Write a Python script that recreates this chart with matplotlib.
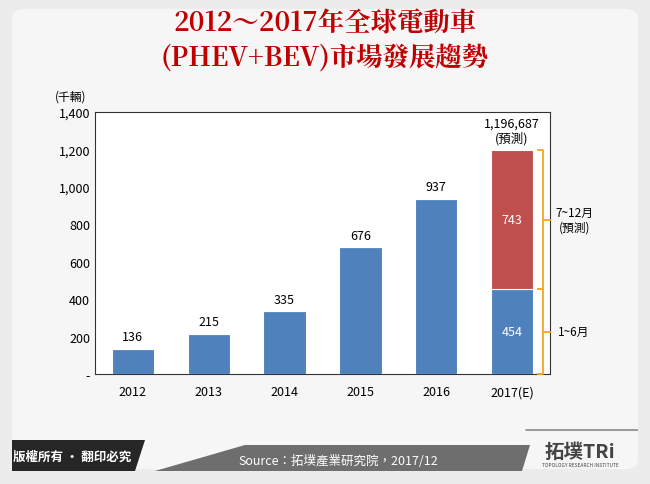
import matplotlib
matplotlib.use("Agg")
import matplotlib.pyplot as plt
from matplotlib.patches import FancyBboxPatch, Polygon

plt.rcParams['font.family'] = ['Noto Sans CJK TC', 'DejaVu Sans']

years = ['2012', '2013', '2014', '2015', '2016', '2017(E)']
h1 = [136, 215, 335, 676, 937, 454]
h2 = [0, 0, 0, 0, 0, 743]
labels = ['136', '215', '335', '676', '937', '454']
yticks = [0, 200, 400, 600, 800, 1000, 1200, 1400]
ytick_labels = ['-', '200', '400', '600', '800', '1,000', '1,200', '1,400']

fig = plt.figure(figsize=(6.5, 4.85), dpi=100)
fig.patch.set_facecolor('#ECECEC')
W, H = 650, 485
def fx(x): return x / W
def fy(y): return 1 - y / H

fig.patches.append(FancyBboxPatch((fx(12), fy(470)), fx(626), fy(10) - fy(470),
                                  boxstyle="round,pad=0,rounding_size=0.02",
                                  transform=fig.transFigure, facecolor='#F6F6F6',
                                  edgecolor='none', zorder=0))
fig.patches.append(Polygon([(fx(245), fy(446)), (fx(530), fy(446)), (fx(522), fy(472)), (fx(155), fy(472))],
                           closed=True, transform=fig.transFigure, facecolor='#6E6E6E', edgecolor='none', zorder=1))
fig.patches.append(Polygon([(fx(12), fy(441)), (fx(145), fy(441)), (fx(135), fy(472)), (fx(12), fy(472))],
                           closed=True, transform=fig.transFigure, facecolor='#262626', edgecolor='none', zorder=2))
fig.patches.append(Polygon([(fx(525), fy(430)), (fx(638), fy(430)), (fx(638), fy(432)), (fx(526), fy(432))],
                           closed=True, transform=fig.transFigure, facecolor='#9A9A9A', edgecolor='none', zorder=1))
fig.text(fx(72), fy(457), '版權所有 · 翻印必究', color='white', fontsize=9, ha='center', va='center', fontweight='bold', zorder=3)
fig.text(fx(338), fy(462), 'Source：拓墣產業研究院，2017/12', color='white', fontsize=9, ha='center', va='center', zorder=3)
fig.text(fx(580), fy(452), '拓墣TRi', color='#444444', fontsize=14, ha='center', va='center', fontweight='bold')
fig.text(fx(580), fy(466), 'TOPOLOGY RESEARCH INSTITUTE', color='#444444', fontsize=3.5, ha='center', va='center')

fig.text(0.5, fy(24), '2012～2017年全球電動車', color='#C00000', fontsize=19, fontweight='bold',
         ha='center', va='center', family=['Noto Serif CJK TC', 'Noto Sans CJK TC', 'DejaVu Serif'])
fig.text(0.5, fy(58), '(PHEV+BEV)市場發展趨勢', color='#C00000', fontsize=19, fontweight='bold',
         ha='center', va='center', family=['Noto Serif CJK TC', 'Noto Sans CJK TC', 'DejaVu Serif'])

ax = fig.add_axes([fx(95), fy(375), fx(550) - fx(95), fy(113) - fy(375)])
ax.set_zorder(5)
ax.set_facecolor('white')
x = list(range(len(years)))
ax.bar(x, h1, width=0.56, color='#4F81BD', edgecolor='white', linewidth=0.8, zorder=3)
ax.bar(x, h2, bottom=h1, width=0.56, color='#C0504D', edgecolor='white', linewidth=0.8, zorder=3)
for i in range(5):
    ax.text(i, h1[i] + 30, labels[i], ha='center', va='bottom', fontsize=9)
ax.text(5, h1[5] / 2, labels[5], ha='center', va='center', fontsize=9, color='white')
ax.text(5, h1[5] + h2[5] / 2, str(h2[5]), ha='center', va='center', fontsize=9, color='white')
ax.text(5, h1[5] + h2[5] + 30, '1,196,687\n(預測)', ha='center', va='bottom', fontsize=9, linespacing=1.1)

ax.set_xlim(-0.5, 5.5)
ax.set_ylim(0, 1400)
ax.set_xticks(x)
ax.set_xticklabels(years, fontsize=9)
ax.set_yticks(yticks)
ax.set_yticklabels(ytick_labels, fontsize=9)
ax.tick_params(length=0)
ax.tick_params(axis='x', pad=8)
for s in ax.spines.values():
    s.set_color('#333333')
ax.text(-0.02, 1.06, '(千輛)', transform=ax.transAxes, ha='right', va='center', fontsize=8.5)

bc = '#F5A623'
def bracket(y0, y1):
    xa, xb, xc = 5.34, 5.41, 5.5
    ym = (y0 + y1) / 2
    ax.plot([xa, xb, xb, xa], [y0, y0, y1, y1], color=bc, lw=1.3, clip_on=False, zorder=4)
    ax.plot([xb, xc], [ym, ym], color=bc, lw=1.3, clip_on=False, zorder=4)
bracket(0, 454)
bracket(454, 1197)
ax.text(5.6, 227, '1~6月', ha='left', va='center', fontsize=8.5, clip_on=False)
ax.text(5.82, 825, '7~12月\n(預測)', ha='center', va='center', fontsize=8.5, clip_on=False, linespacing=1.2)

fig.savefig('out.png', dpi=100, facecolor=fig.get_facecolor())
